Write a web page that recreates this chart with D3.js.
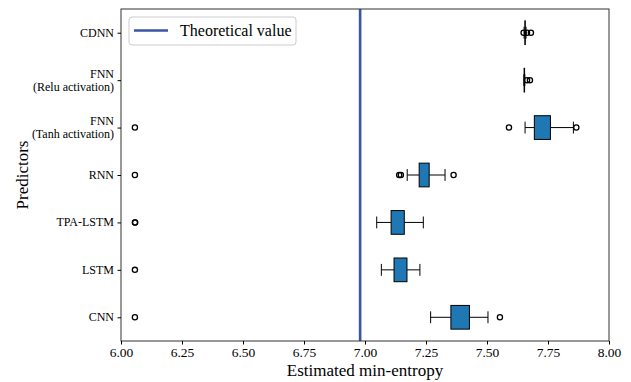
<!DOCTYPE html>
<html>
<head>
<meta charset="utf-8">
<script src="https://cdn.jsdelivr.net/npm/d3@7"></script>
<style>
  body { margin: 0; background: #fff; }
  svg text { font-family: "Liberation Serif", "DejaVu Serif", serif; fill: #000; }
</style>
</head>
<body>
<div id="chart"></div>
<script>
// predictors, bottom to top (matplotlib positions 1..7)
var predictors = ["CNN", "LSTM", "TPA-LSTM", "RNN", "FNN\n(Tanh activation)", "FNN\n(Relu activation)", "CDNN"];
var whiskerLow  = [7.269, 7.067, 7.048, 7.173, 7.656, 7.651, 7.652];
var q1          = [7.352, 7.119, 7.107, 7.222, 7.694, 7.652, 7.655];
var medians     = [7.390, 7.145, 7.130, 7.242, 7.725, 7.653, 7.656];
var q3          = [7.428, 7.172, 7.161, 7.263, 7.760, 7.654, 7.657];
var whiskerHigh = [7.504, 7.225, 7.239, 7.328, 7.854, 7.655, 7.660];
var outliers = [
    [6.057, 7.553],
    [6.057],
    [6.057, 6.058],
    [6.057, 7.140, 7.147, 7.363],
    [6.057, 7.590, 7.866],
    [7.664, 7.676],
    [7.650, 7.664, 7.680]
];
var theoretical = 6.98;
var xTicks = [6.00, 6.25, 6.50, 6.75, 7.00, 7.25, 7.50, 7.75, 8.00];

var width = 631, height = 382;
var margin = {top: 9, right: 22, bottom: 41, left: 121};

var svg = d3.select("#chart").append("svg")
    .attr("width", width)
    .attr("height", height);

var x = d3.scaleLinear()
    .domain([6, 8])
    .range([margin.left, width - margin.right]);

// positions 1..7, limits 0.5..7.5
var y = d3.scaleLinear()
    .domain([0.5, 7.5])
    .range([height - margin.bottom, margin.top]);

var boxH = y(0) - y(0.5); // width 0.5
var capH = boxH / 2;

var rows = predictors.map(function(p, i) {
    return {name: p, pos: i + 1, lo: whiskerLow[i], q1: q1[i], med: medians[i],
            q3: q3[i], hi: whiskerHigh[i], fliers: outliers[i]};
});

// theoretical value line
svg.append("line")
    .attr("x1", x(theoretical)).attr("x2", x(theoretical))
    .attr("y1", y(0.5)).attr("y2", y(7.5))
    .attr("stroke", "#3a55a3")
    .attr("stroke-width", 2.6);

var box = svg.append("g").selectAll("g")
    .data(rows)
    .enter().append("g");

// whiskers
box.append("line")
    .attr("x1", function(d) { return x(d.lo); })
    .attr("x2", function(d) { return x(d.q1); })
    .attr("y1", function(d) { return y(d.pos); })
    .attr("y2", function(d) { return y(d.pos); })
    .attr("stroke", "#000").attr("stroke-width", 1);
box.append("line")
    .attr("x1", function(d) { return x(d.q3); })
    .attr("x2", function(d) { return x(d.hi); })
    .attr("y1", function(d) { return y(d.pos); })
    .attr("y2", function(d) { return y(d.pos); })
    .attr("stroke", "#000").attr("stroke-width", 1);

// caps
["lo", "hi"].forEach(function(k) {
    box.append("line")
        .attr("x1", function(d) { return x(d[k]); })
        .attr("x2", function(d) { return x(d[k]); })
        .attr("y1", function(d) { return y(d.pos) - capH / 2; })
        .attr("y2", function(d) { return y(d.pos) + capH / 2; })
        .attr("stroke", "#000").attr("stroke-width", 1);
});

// boxes
box.append("rect")
    .attr("x", function(d) { return x(d.q1); })
    .attr("width", function(d) { return Math.max(x(d.q3) - x(d.q1), 0.5); })
    .attr("y", function(d) { return y(d.pos) - boxH / 2; })
    .attr("height", boxH)
    .attr("fill", "#1f77b4")
    .attr("stroke", "#000")
    .attr("stroke-width", 1);

// fliers
box.selectAll("circle")
    .data(function(d) { return d.fliers.map(function(v) { return {v: v, pos: d.pos}; }); })
    .enter().append("circle")
    .attr("cx", function(d) { return x(d.v); })
    .attr("cy", function(d) { return y(d.pos); })
    .attr("r", 2.6)
    .attr("fill", "none")
    .attr("stroke", "#000")
    .attr("stroke-width", 1.3);

// frame
svg.append("rect")
    .attr("x", x(6)).attr("y", y(7.5))
    .attr("width", x(8) - x(6))
    .attr("height", y(0.5) - y(7.5))
    .attr("fill", "none")
    .attr("stroke", "#333")
    .attr("stroke-width", 1);

// x axis
var xAxis = svg.append("g")
    .attr("transform", "translate(0," + y(0.5) + ")")
    .call(d3.axisBottom(x).tickValues(xTicks).tickFormat(d3.format(".2f")).tickSizeOuter(0).tickSize(3.5).tickPadding(3));
xAxis.select(".domain").remove();
xAxis.selectAll("text").style("font-size", "13.5px").attr("font-family", "Liberation Serif");

// y axis
var yAxis = svg.append("g")
    .attr("transform", "translate(" + x(6) + ",0)")
    .call(d3.axisLeft(y).tickValues(d3.range(1, 8)).tickSize(3.5).tickFormat(""));
yAxis.select(".domain").remove();

svg.append("g").selectAll("text")
    .data(rows)
    .enter().append("text")
    .attr("text-anchor", "end")
    .style("font-size", "12px")
    .each(function(d) {
        var lines = d.name.split("\n");
        var t = d3.select(this);
        lines.forEach(function(l, j) {
            t.append("tspan")
                .attr("x", x(6) - 7)
                .attr("y", y(d.pos) + 4 + (j - (lines.length - 1) / 2) * 13)
                .text(l);
        });
    });

// axis labels
svg.append("text")
    .attr("x", (x(6) + x(8)) / 2)
    .attr("y", 376)
    .attr("text-anchor", "middle")
    .style("font-size", "17px")
    .text("Estimated min-entropy");

svg.append("text")
    .attr("transform", "translate(28," + (y(4)) + ") rotate(-90)")
    .attr("text-anchor", "middle")
    .style("font-size", "17px")
    .text("Predictors");

// legend
var legend = svg.append("g");
legend.append("rect")
    .attr("x", 129).attr("y", 17)
    .attr("width", 167).attr("height", 28)
    .attr("rx", 3)
    .attr("fill", "#fff")
    .attr("fill-opacity", 0.8)
    .attr("stroke", "#ccc");
legend.append("line")
    .attr("x1", 134).attr("x2", 168)
    .attr("y1", 30.5).attr("y2", 30.5)
    .attr("stroke", "#3a55a3")
    .attr("stroke-width", 2.6);
legend.append("text")
    .attr("x", 180).attr("y", 36)
    .style("font-size", "16px")
    .text("Theoretical value");
</script>
</body>
</html>
